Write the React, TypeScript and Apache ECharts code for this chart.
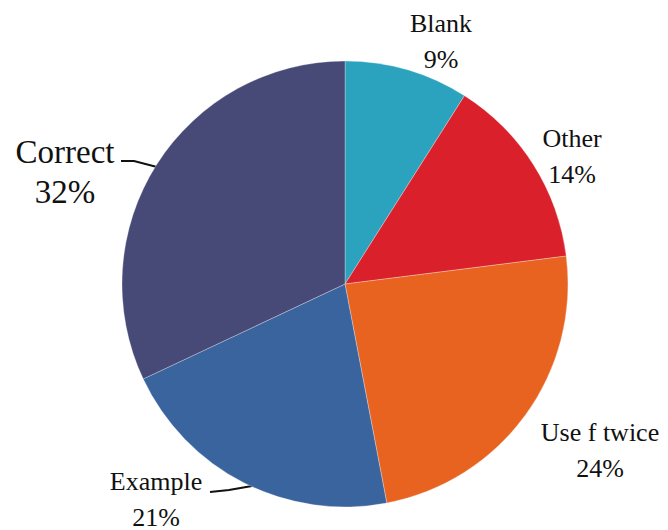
import React, { useEffect, useRef } from "react";
import * as echarts from "echarts";

const categories = ["Blank", "Other", "Use f twice", "Example", "Correct"];
const values = [9, 14, 24, 21, 32];
const colors = ["#2ba3bf", "#d9202b", "#e8631f", "#3a649e", "#474a76"];

// label centre positions (layout only)
const labelCenters: number[][] = [
  [441, 41],
  [572, 156],
  [600, 450],
  [156, 499],
  [65, 172],
];
const labelLines: (number[][] | null)[] = [
  null,
  null,
  null,
  [[252, 486], [229, 490], [210, 492]],
  [[157, 167], [134, 161], [121, 161]],
];

export default function App() {
  const ref = useRef<HTMLDivElement>(null);
  useEffect(() => {
    document.body.style.margin = "0";
    if (!ref.current) return;
    const chart = echarts.init(ref.current, null, { renderer: "svg" });
    const data = categories.map((name, i) => ({
      name,
      value: values[i],
      itemStyle: { color: colors[i] },
      label: {
        fontSize: name === "Correct" ? 33 : 26,
        lineHeight: name === "Correct" ? 40 : 36,
      },
      labelLine: { show: labelLines[i] != null },
    }));
    chart.setOption({
      animation: false,
      backgroundColor: "#ffffff",
      series: [
        {
          type: "pie",
          center: [345, 284],
          radius: 223,
          startAngle: 90,
          clockwise: true,
          data,
          itemStyle: { borderColor: "#ffffff", borderWidth: 0.3 },
          label: {
            show: true,
            position: "outside",
            alignTo: "none",
            overflow: "none",
            formatter: "{b}\n{c}%",
            color: "#111111",
            fontFamily: "Liberation Serif",
            align: "center",
          },
          labelLine: {
            show: true,
            lineStyle: { color: "#111111", width: 2 },
            smooth: false,
          },
          labelLayout: (params: any) => {
            const i = params.dataIndex;
            const c = labelCenters[i];
            const res: any = {
              x: c[0],
              y: c[1],
              align: "center",
              verticalAlign: "middle",
            };
            if (labelLines[i]) res.labelLinePoints = labelLines[i];
            return res;
          },
        },
      ],
    });
    return () => chart.dispose();
  }, []);
  return <div ref={ref} style={{ width: 668, height: 530 }} />;
}
